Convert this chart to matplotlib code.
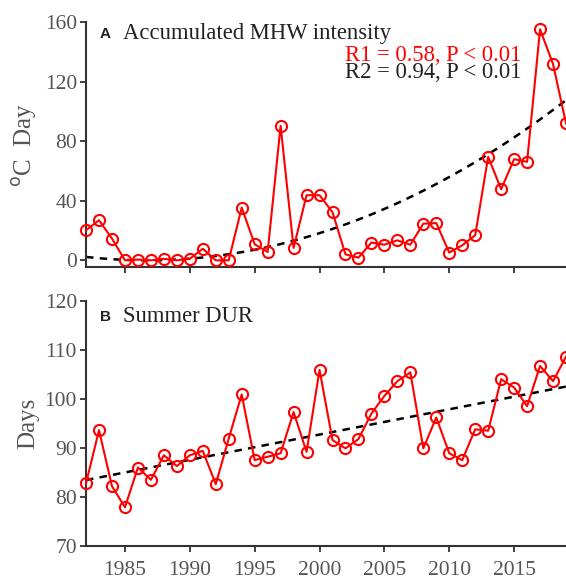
import numpy as np
import matplotlib.pyplot as plt

years = np.arange(1982, 2020)

# accumulated MHW intensity (degC day)
intensity = [20.2, 26.9, 14.6, 0.0, 0.5, 0.0, 1.0, 0.0, 1.0, 7.8,
             0.0, 0.0, 35.4, 10.8, 5.6, 90.3, 8.3, 43.7, 43.7, 32.3,
             4.0, 1.8, 11.9, 10.5, 13.4, 10.5, 24.6, 25.0, 5.2, 10.1,
             16.8, 69.5, 47.7, 67.9, 66.1, 155.1, 131.8, 91.9]

# summer duration (days)
duration = [82.8, 93.6, 82.2, 77.9, 86.0, 83.5, 88.5, 86.3, 88.5, 89.4,
            82.6, 91.9, 100.9, 87.5, 88.2, 88.9, 97.3, 89.2, 105.9, 91.6,
            89.9, 91.8, 97.0, 100.6, 103.6, 105.4, 89.9, 96.2, 88.9, 87.5,
            93.8, 93.5, 104.0, 102.3, 98.5, 106.7, 103.6, 108.6]

# trend curves: quadratic for A (a*(t-t0)^2), linear for B
trend_a_curv = 0.103
trend_a_vertex = 1986.7
trend_b_start = 83.45   # value at 1982
trend_b_slope = 0.515   # days per year

xticks = [1985, 1990, 1995, 2000, 2005, 2010, 2015]

serif = 'Liberation Serif'
tick_col = '#555555'
spine_col = '#333333'
text_col = '#222222'


def style_axes(ax):
    for s in ['top', 'right']:
        ax.spines[s].set_visible(False)
    for s in ['left', 'bottom']:
        ax.spines[s].set_color(spine_col)
        ax.spines[s].set_linewidth(1.5)
    ax.tick_params(direction='out', length=4.5, width=1.3, color=spine_col,
                   labelcolor=tick_col, labelsize=15.5)
    ax.tick_params(axis='x', pad=6)
    ax.tick_params(axis='y', pad=2)
    for lab in ax.get_xticklabels() + ax.get_yticklabels():
        lab.set_family(serif)
    ax.set_xlim(1982, 2019)
    ax.set_xticks(xticks)


def plot_series(ax, y, trend):
    ax.plot(years, y, color='red', lw=1.5, marker='o', ms=8, mfc='none',
            mec='red', mew=1.5, clip_on=False, zorder=3)
    xf = np.linspace(1982, 2019, 200)
    ax.plot(xf, trend(xf), color='black', lw=1.8, ls=(0, (3, 2.5)), zorder=2)


fig = plt.figure(figsize=(5.66, 5.81), dpi=100)
ax1 = fig.add_axes([0.152, 0.5404, 0.848, 0.4218])
ax2 = fig.add_axes([0.152, 0.0602, 0.848, 0.4222])

# panel A
plot_series(ax1, intensity, lambda t: trend_a_curv * (t - trend_a_vertex) ** 2)
ax1.set_ylim(-4.5, 160)
ax1.set_yticks([0, 40, 80, 120, 160])
style_axes(ax1)
ax1.set_xticklabels([])
ax1.set_ylabel(r'$^{\rm o}$C  Day', family=serif, fontsize=18, color=tick_col)
ax1.yaxis.set_label_coords(-0.098, 0.5)
ax1.text(0.029, 0.951, 'A', transform=ax1.transAxes, fontsize=11,
         fontweight='bold', family='Liberation Sans', color=text_col,
         va='center')
ax1.text(0.077, 0.951, 'Accumulated MHW intensity', transform=ax1.transAxes,
         fontsize=16.3, family=serif, color=text_col, va='center')
ax1.text(0.908, 0.865, 'R1 = 0.58, P < 0.01', transform=ax1.transAxes,
         fontsize=16.3, family=serif, color='red', ha='right', va='center')
ax1.text(0.908, 0.792, 'R2 = 0.94, P < 0.01', transform=ax1.transAxes,
         fontsize=16.3, family=serif, color=text_col, ha='right', va='center')

# panel B
plot_series(ax2, duration,
            lambda t: trend_b_start + trend_b_slope * (t - 1982))
ax2.set_ylim(70, 120)
ax2.set_yticks([70, 80, 90, 100, 110, 120])
style_axes(ax2)
ax2.set_ylabel('Days', family=serif, fontsize=18, color=tick_col)
ax2.yaxis.set_label_coords(-0.098, 0.5)
ax2.text(0.029, 0.935, 'B', transform=ax2.transAxes, fontsize=11,
         fontweight='bold', family='Liberation Sans', color=text_col,
         va='center')
ax2.text(0.077, 0.935, 'Summer DUR', transform=ax2.transAxes,
         fontsize=16.3, family=serif, color=text_col, va='center')

fig.savefig('out.png', dpi=100)
